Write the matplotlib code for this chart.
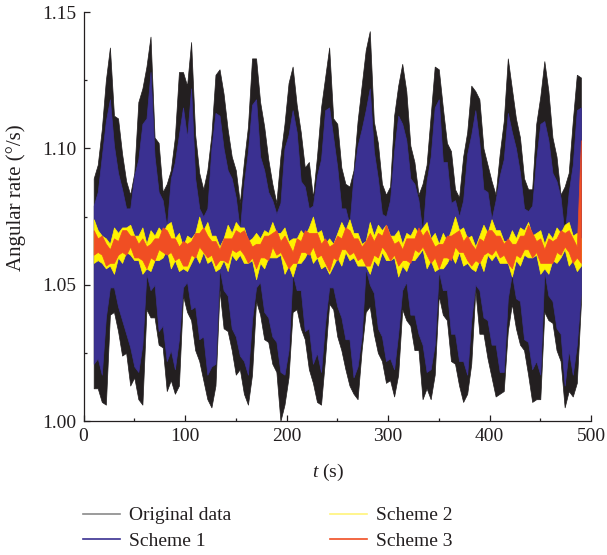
import numpy as np
import matplotlib
matplotlib.use("Agg")
import matplotlib.pyplot as plt
from matplotlib.lines import Line2D
from matplotlib.ticker import MultipleLocator, FormatStrFormatter

plt.rcParams["font.family"] = ["Liberation Serif", "DejaVu Serif"]
plt.rcParams["mathtext.fontset"] = "custom"
plt.rcParams["mathtext.it"] = "Liberation Serif:italic"
plt.rcParams["mathtext.rm"] = "Liberation Serif"

# envelopes, one knot every 4 s from t = 10 s to 490 s
t = np.arange(10, 491, 4)

original_hi = [
    1.089, 1.094, 1.107, 1.125, 1.137, 1.112, 1.111, 1.098, 1.088, 1.083,
    1.091, 1.117, 1.122, 1.130, 1.141, 1.104, 1.102, 1.084, 1.087, 1.092,
    1.104, 1.128, 1.128, 1.123, 1.139, 1.105, 1.091, 1.085, 1.092, 1.105,
    1.127, 1.129, 1.120, 1.107, 1.097, 1.092, 1.080, 1.095, 1.108, 1.133,
    1.133, 1.117, 1.108, 1.096, 1.087, 1.080, 1.097, 1.109, 1.124, 1.130,
    1.116, 1.106, 1.093, 1.095, 1.082, 1.097, 1.115, 1.126, 1.137, 1.111,
    1.109, 1.093, 1.087, 1.086, 1.092, 1.110, 1.123, 1.136, 1.143, 1.110,
    1.102, 1.087, 1.083, 1.086, 1.112, 1.123, 1.131, 1.121, 1.101, 1.095,
    1.083, 1.087, 1.094, 1.112, 1.130, 1.129, 1.115, 1.102, 1.099, 1.085,
    1.082, 1.097, 1.106, 1.123, 1.121, 1.118, 1.100, 1.094, 1.088, 1.083,
    1.098, 1.110, 1.133, 1.122, 1.111, 1.104, 1.089, 1.085, 1.085, 1.109,
    1.119, 1.132, 1.121, 1.104, 1.097, 1.083, 1.086, 1.091, 1.110, 1.127,
    1.126]
original_lo = [
    1.012, 1.012, 1.007, 1.006, 1.039, 1.040, 1.033, 1.024, 1.025, 1.013,
    1.016, 1.008, 1.006, 1.041, 1.038, 1.038, 1.028, 1.027, 1.011, 1.015,
    1.010, 1.013, 1.046, 1.040, 1.037, 1.026, 1.022, 1.015, 1.008, 1.005,
    1.013, 1.048, 1.034, 1.033, 1.026, 1.017, 1.019, 1.010, 1.006, 1.017,
    1.044, 1.039, 1.030, 1.029, 1.021, 1.018, 1.000, 1.006, 1.016, 1.040,
    1.041, 1.034, 1.030, 1.019, 1.014, 1.007, 1.006, 1.023, 1.043, 1.041,
    1.031, 1.026, 1.019, 1.013, 1.010, 1.008, 1.026, 1.040, 1.042, 1.032,
    1.025, 1.022, 1.014, 1.015, 1.009, 1.017, 1.041, 1.037, 1.035, 1.026,
    1.026, 1.008, 1.012, 1.008, 1.017, 1.046, 1.039, 1.037, 1.022, 1.021,
    1.013, 1.007, 1.010, 1.021, 1.048, 1.032, 1.032, 1.023, 1.016, 1.009,
    1.010, 1.011, 1.033, 1.043, 1.034, 1.028, 1.026, 1.017, 1.007, 1.008,
    1.008, 1.040, 1.037, 1.036, 1.026, 1.022, 1.005, 1.011, 1.009, 1.014,
    1.043]
scheme1_hi = [
    1.079, 1.084, 1.097, 1.110, 1.118, 1.101, 1.091, 1.085, 1.078, 1.078,
    1.090, 1.096, 1.109, 1.111, 1.128, 1.097, 1.084, 1.081, 1.071, 1.089,
    1.095, 1.105, 1.115, 1.104, 1.122, 1.089, 1.078, 1.075, 1.078, 1.100,
    1.113, 1.112, 1.100, 1.092, 1.089, 1.082, 1.070, 1.087, 1.099, 1.116,
    1.118, 1.097, 1.092, 1.084, 1.081, 1.076, 1.080, 1.100, 1.105, 1.114,
    1.106, 1.088, 1.086, 1.078, 1.079, 1.090, 1.096, 1.114, 1.115, 1.104,
    1.093, 1.078, 1.078, 1.072, 1.090, 1.101, 1.107, 1.114, 1.122, 1.099,
    1.089, 1.076, 1.075, 1.081, 1.099, 1.112, 1.109, 1.103, 1.089, 1.087,
    1.081, 1.069, 1.088, 1.097, 1.115, 1.118, 1.095, 1.095, 1.080, 1.081,
    1.075, 1.081, 1.098, 1.105, 1.114, 1.102, 1.085, 1.084, 1.074, 1.081,
    1.090, 1.096, 1.113, 1.106, 1.100, 1.091, 1.078, 1.077, 1.079, 1.096,
    1.109, 1.110, 1.103, 1.091, 1.088, 1.082, 1.068, 1.084, 1.094, 1.114,
    1.115]
scheme1_lo = [
    1.021, 1.023, 1.017, 1.038, 1.049, 1.049, 1.042, 1.037, 1.032, 1.027,
    1.020, 1.018, 1.028, 1.054, 1.048, 1.050, 1.033, 1.035, 1.022, 1.026,
    1.019, 1.030, 1.049, 1.051, 1.041, 1.042, 1.030, 1.031, 1.017, 1.020,
    1.021, 1.056, 1.048, 1.046, 1.034, 1.031, 1.024, 1.022, 1.017, 1.037,
    1.049, 1.051, 1.040, 1.038, 1.031, 1.029, 1.018, 1.017, 1.026, 1.054,
    1.048, 1.048, 1.033, 1.034, 1.021, 1.025, 1.018, 1.036, 1.049, 1.049,
    1.042, 1.038, 1.030, 1.030, 1.016, 1.020, 1.031, 1.056, 1.050, 1.047,
    1.034, 1.031, 1.022, 1.023, 1.019, 1.032, 1.048, 1.051, 1.039, 1.039,
    1.032, 1.028, 1.018, 1.019, 1.028, 1.055, 1.048, 1.048, 1.032, 1.032,
    1.022, 1.022, 1.017, 1.037, 1.050, 1.048, 1.038, 1.037, 1.028, 1.028,
    1.018, 1.018, 1.045, 1.054, 1.045, 1.044, 1.030, 1.029, 1.019, 1.022,
    1.017, 1.055, 1.046, 1.044, 1.034, 1.032, 1.013, 1.026, 1.017, 1.028,
    1.047]
scheme2_hi = [
    1.074, 1.070, 1.068, 1.067, 1.065, 1.071, 1.069, 1.071, 1.071, 1.072,
    1.068, 1.068, 1.071, 1.065, 1.070, 1.068, 1.071, 1.069, 1.072, 1.073,
    1.067, 1.069, 1.064, 1.068, 1.067, 1.069, 1.075, 1.070, 1.073, 1.068,
    1.068, 1.064, 1.067, 1.072, 1.069, 1.073, 1.071, 1.071, 1.066, 1.067,
    1.069, 1.067, 1.070, 1.069, 1.073, 1.069, 1.069, 1.071, 1.066, 1.067,
    1.067, 1.070, 1.068, 1.071, 1.075, 1.069, 1.070, 1.065, 1.067, 1.065,
    1.069, 1.073, 1.070, 1.074, 1.069, 1.069, 1.065, 1.066, 1.073, 1.068,
    1.072, 1.070, 1.072, 1.068, 1.068, 1.070, 1.065, 1.069, 1.068, 1.071,
    1.069, 1.071, 1.073, 1.067, 1.069, 1.065, 1.069, 1.066, 1.070, 1.075,
    1.070, 1.071, 1.067, 1.068, 1.064, 1.068, 1.072, 1.069, 1.074, 1.070,
    1.070, 1.066, 1.066, 1.070, 1.067, 1.071, 1.070, 1.073, 1.068, 1.069,
    1.070, 1.065, 1.069, 1.067, 1.071, 1.069, 1.072, 1.073, 1.068, 1.069,
    1.067]
scheme2_lo = [
    1.058, 1.059, 1.058, 1.056, 1.057, 1.054, 1.060, 1.058, 1.062, 1.061,
    1.059, 1.059, 1.054, 1.056, 1.055, 1.059, 1.059, 1.060, 1.063, 1.056,
    1.059, 1.055, 1.056, 1.055, 1.058, 1.061, 1.058, 1.062, 1.058, 1.059,
    1.055, 1.056, 1.059, 1.055, 1.061, 1.059, 1.061, 1.058, 1.058, 1.059,
    1.052, 1.058, 1.056, 1.060, 1.060, 1.060, 1.061, 1.054, 1.057, 1.053,
    1.058, 1.058, 1.060, 1.063, 1.058, 1.060, 1.056, 1.057, 1.054, 1.057,
    1.060, 1.057, 1.062, 1.059, 1.060, 1.057, 1.057, 1.057, 1.054, 1.059,
    1.057, 1.062, 1.059, 1.059, 1.060, 1.053, 1.057, 1.055, 1.059, 1.059,
    1.061, 1.063, 1.056, 1.059, 1.055, 1.056, 1.056, 1.058, 1.061, 1.058,
    1.062, 1.057, 1.058, 1.056, 1.055, 1.059, 1.055, 1.061, 1.059, 1.061,
    1.058, 1.058, 1.058, 1.053, 1.059, 1.057, 1.061, 1.060, 1.060, 1.061,
    1.054, 1.056, 1.054, 1.059, 1.058, 1.060, 1.063, 1.057, 1.059, 1.055,
    1.057]
scheme3_hi = [
    1.070, 1.067, 1.068, 1.065, 1.063, 1.067, 1.066, 1.070, 1.070, 1.068,
    1.068, 1.065, 1.067, 1.064, 1.065, 1.067, 1.067, 1.071, 1.070, 1.067,
    1.067, 1.064, 1.066, 1.065, 1.066, 1.069, 1.069, 1.071, 1.068, 1.066,
    1.066, 1.063, 1.067, 1.067, 1.067, 1.070, 1.069, 1.070, 1.067, 1.064,
    1.065, 1.065, 1.068, 1.068, 1.069, 1.070, 1.066, 1.068, 1.065, 1.062,
    1.067, 1.066, 1.070, 1.069, 1.069, 1.069, 1.065, 1.067, 1.064, 1.065,
    1.068, 1.067, 1.071, 1.070, 1.067, 1.067, 1.064, 1.066, 1.069, 1.066,
    1.069, 1.068, 1.072, 1.068, 1.065, 1.066, 1.063, 1.067, 1.067, 1.067,
    1.071, 1.068, 1.070, 1.067, 1.064, 1.065, 1.065, 1.068, 1.068, 1.069,
    1.070, 1.066, 1.068, 1.065, 1.063, 1.067, 1.066, 1.070, 1.070, 1.068,
    1.068, 1.065, 1.067, 1.065, 1.065, 1.068, 1.068, 1.072, 1.069, 1.066,
    1.067, 1.063, 1.067, 1.066, 1.067, 1.070, 1.069, 1.070, 1.067, 1.064,
    1.103]
scheme3_lo = [
    1.061, 1.062, 1.061, 1.057, 1.058, 1.058, 1.061, 1.062, 1.061, 1.064,
    1.060, 1.060, 1.059, 1.056, 1.060, 1.059, 1.063, 1.062, 1.061, 1.062,
    1.059, 1.060, 1.057, 1.057, 1.061, 1.060, 1.064, 1.062, 1.060, 1.061,
    1.057, 1.059, 1.059, 1.058, 1.063, 1.062, 1.063, 1.061, 1.058, 1.060,
    1.056, 1.060, 1.060, 1.059, 1.064, 1.061, 1.062, 1.059, 1.056, 1.058,
    1.058, 1.062, 1.062, 1.061, 1.064, 1.060, 1.061, 1.058, 1.055, 1.060,
    1.059, 1.063, 1.063, 1.061, 1.062, 1.059, 1.060, 1.057, 1.057, 1.061,
    1.060, 1.064, 1.062, 1.059, 1.061, 1.057, 1.059, 1.059, 1.058, 1.063,
    1.062, 1.064, 1.061, 1.058, 1.060, 1.056, 1.060, 1.060, 1.059, 1.064,
    1.062, 1.062, 1.059, 1.057, 1.059, 1.058, 1.061, 1.062, 1.061, 1.063,
    1.060, 1.061, 1.058, 1.056, 1.061, 1.060, 1.063, 1.063, 1.060, 1.062,
    1.058, 1.058, 1.058, 1.058, 1.062, 1.061, 1.064, 1.062, 1.058, 1.060,
    1.058]

series = [
    ("Original data", original_lo, original_hi, "#231f20", "#8a8a8a"),
    ("Scheme 1", scheme1_lo, scheme1_hi, "#3a3091", "#3a3091"),
    ("Scheme 2", scheme2_lo, scheme2_hi, "#fff200", "#fff47a"),
    ("Scheme 3", scheme3_lo, scheme3_hi, "#f04e23", "#f04e23"),
]
ink = "#231f20"

fig = plt.figure(figsize=(6.07, 5.55), dpi=100)
ax = fig.add_axes([0.1376, 0.2414, 0.8361, 0.7369])

handles = []
for name, lo, hi, color, legend_color in series:
    ax.fill_between(t, lo, hi, facecolor=color, edgecolor=color, linewidth=0.5)
    handles.append(Line2D([], [], color=legend_color, linewidth=1.2, label=name))

ax.set_xlim(0, 500)
ax.set_ylim(1.00, 1.15)
ax.xaxis.set_major_locator(MultipleLocator(100))
ax.xaxis.set_minor_locator(MultipleLocator(50))
ax.yaxis.set_major_locator(MultipleLocator(0.05))
ax.yaxis.set_minor_locator(MultipleLocator(0.025))
ax.yaxis.set_major_formatter(FormatStrFormatter("%.2f"))

for side in ("top", "right"):
    ax.spines[side].set_visible(False)
for side in ("left", "bottom"):
    ax.spines[side].set_linewidth(0.9)
    ax.spines[side].set_color(ink)
ax.tick_params(which="both", direction="in", colors=ink, labelsize=14, width=0.9)
ax.tick_params(which="major", length=4.5, pad=5)
ax.tick_params(which="minor", length=2.5)

ax.set_xlabel("$t$ (s)", fontsize=14, color=ink)
ax.xaxis.set_label_coords(0.482, -0.100)
ax.set_ylabel("Angular rate (°/s)", fontsize=15, color=ink)
ax.yaxis.set_label_coords(-0.113, 0.545)

fig.legend(handles=handles, ncol=2, loc="upper left", bbox_to_anchor=(0.137, 0.087),
           frameon=False, fontsize=14, handlelength=1.9, handletextpad=0.45,
           columnspacing=5.1, labelspacing=0.4, borderaxespad=0, borderpad=0,
           labelcolor=ink)

fig.savefig("out.png", dpi=100)
